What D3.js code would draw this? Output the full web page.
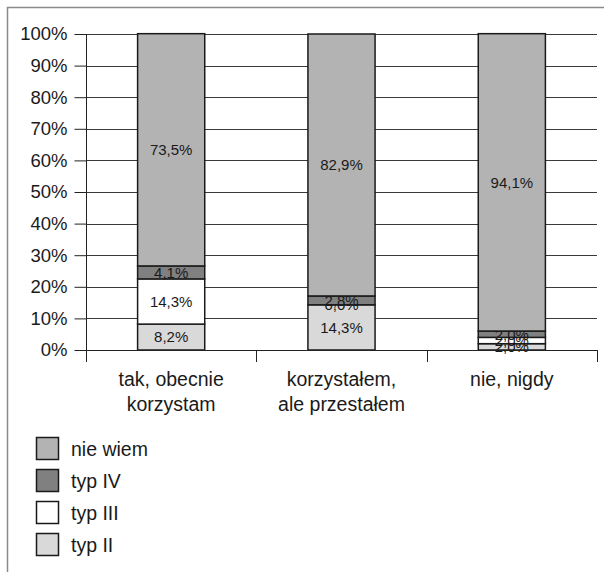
<!DOCTYPE html>
<html>
<head>
<meta charset="utf-8">
<script src="https://cdn.jsdelivr.net/npm/d3@7"></script>
<style>
  html, body { margin: 0; padding: 0; background: #fff; }
  svg { display: block; font-family: "Liberation Sans", Arial, sans-serif; }
</style>
</head>
<body>
<svg id="chart" width="604" height="572"></svg>
<script>
// Answer groups (two-line labels)
const categories = [
  ["tak, obecnie", "korzystam"],
  ["korzystałem,", "ale przestałem"],
  ["nie, nigdy"]
];
// Series, stacked bottom to top
const seriesNames = ["typ II", "typ III", "typ IV", "nie wiem"];
const typII   = [8.2, 14.3, 2.0];
const typIII  = [14.3, 0.0, 2.0];
const typIV   = [4.1, 2.8, 2.0];
const nieWiem = [73.5, 82.9, 94.1];
const yTicks = [0, 10, 20, 30, 40, 50, 60, 70, 80, 90, 100];

const seriesValues = [typII, typIII, typIV, nieWiem];
const colors = ["#d9d9d9", "#ffffff", "#808080", "#b3b3b3"];

const svg = d3.select("#chart");

// outer frame (only top/left edges fall inside the canvas)
svg.append("rect")
  .attr("x", 7.5).attr("y", 7.5).attr("width", 640).attr("height", 640)
  .attr("fill", "none").attr("stroke", "#8a8a8a").attr("stroke-width", 1.5);

const x = d3.scaleBand()
  .domain(d3.range(categories.length))
  .range([86, 597])
  .paddingInner(0.6)
  .paddingOuter(0.3);

const xCat = d3.scaleBand()
  .domain(d3.range(categories.length))
  .range([86, 597])
  .padding(0);

const y = d3.scaleLinear().domain([0, 100]).range([350, 34]);

// gridlines
svg.append("g")
  .selectAll("line")
  .data(yTicks)
  .join("line")
  .attr("x1", 86).attr("x2", 597)
  .attr("y1", d => Math.round(y(d)) + 0.5)
  .attr("y2", d => Math.round(y(d)) + 0.5)
  .attr("stroke", "#3a3a3a").attr("stroke-width", 1);

// y axis
const yAxis = d3.axisLeft(y)
  .tickValues(yTicks)
  .tickSize(12)
  .tickPadding(7)
  .tickFormat(d => d + "%");
const gy = svg.append("g")
  .attr("transform", "translate(86.5,0)")
  .call(yAxis);
gy.select(".domain").remove();
gy.selectAll(".tick line").attr("stroke", "#222");
gy.selectAll(".tick text")
  .attr("font-size", 18.5)
  .attr("fill", "#1a1a1a")
  .attr("font-family", "Liberation Sans, Arial, sans-serif");
svg.append("line")
  .attr("x1", 86.5).attr("x2", 86.5).attr("y1", 34).attr("y2", 362)
  .attr("stroke", "#222");

// stacked bars
const stackData = categories.map((c, i) => {
  const o = { i };
  seriesNames.forEach((s, k) => { o[s] = seriesValues[k][i]; });
  return o;
});
const stacked = d3.stack().keys(seriesNames)(stackData);

const layers = svg.append("g")
  .selectAll("g")
  .data(stacked)
  .join("g")
  .attr("fill", (d, k) => colors[k]);

layers.selectAll("rect")
  .data(d => d)
  .join("rect")
  .attr("x", d => x(d.data.i) + 0.5)
  .attr("width", x.bandwidth() - 1)
  .attr("y", d => y(d[1]))
  .attr("height", d => y(d[0]) - y(d[1]))
  .attr("stroke", "#1a1a1a")
  .attr("stroke-width", 1.5);

// value labels centred on each segment
layers.selectAll("text")
  .data(d => d.map(v => ({ v, key: d.key })))
  .join("text")
  .attr("x", d => x(d.v.data.i) + x.bandwidth() / 2)
  .attr("y", d => y((d.v[0] + d.v[1]) / 2))
  .attr("dy", "0.36em")
  .attr("text-anchor", "middle")
  .attr("font-size", 15)
  .attr("fill", "#1a1a1a")
  .text(d => d3.format(".1f")(d.v.data[d.key]).replace(".", ",") + "%");

// x axis line and category separators
svg.append("line")
  .attr("x1", 86).attr("x2", 597).attr("y1", 350.5).attr("y2", 350.5)
  .attr("stroke", "#222");
svg.append("g")
  .selectAll("line")
  .data(d3.range(categories.length + 1))
  .join("line")
  .attr("x1", d => Math.round(86 + d * xCat.step()) + 0.5)
  .attr("x2", d => Math.round(86 + d * xCat.step()) + 0.5)
  .attr("y1", 350).attr("y2", 362)
  .attr("stroke", "#222");

// category labels
svg.append("g")
  .selectAll("text")
  .data(categories)
  .join("text")
  .attr("x", (d, i) => xCat(i) + xCat.bandwidth() / 2)
  .attr("y", 386)
  .attr("text-anchor", "middle")
  .attr("font-size", 19.5)
  .attr("fill", "#1a1a1a")
  .selectAll("tspan")
  .data(d => d)
  .join("tspan")
  .attr("x", function () { return d3.select(this.parentNode).attr("x"); })
  .attr("dy", (d, j) => j === 0 ? 0 : 25)
  .text(d => d);

// legend, top to bottom in reverse stack order
const legendOrder = [3, 2, 1, 0];
const legend = svg.append("g")
  .selectAll("g")
  .data(legendOrder)
  .join("g")
  .attr("transform", (k, j) => `translate(36.5, ${437.5 + j * 32})`);
legend.append("rect")
  .attr("width", 22).attr("height", 22)
  .attr("fill", k => colors[k])
  .attr("stroke", "#1a1a1a").attr("stroke-width", 1.5);
legend.append("text")
  .attr("x", 34.5).attr("y", 11)
  .attr("dy", "0.36em")
  .attr("font-size", 19.5)
  .attr("fill", "#1a1a1a")
  .text(k => seriesNames[k]);
</script>
</body>
</html>
